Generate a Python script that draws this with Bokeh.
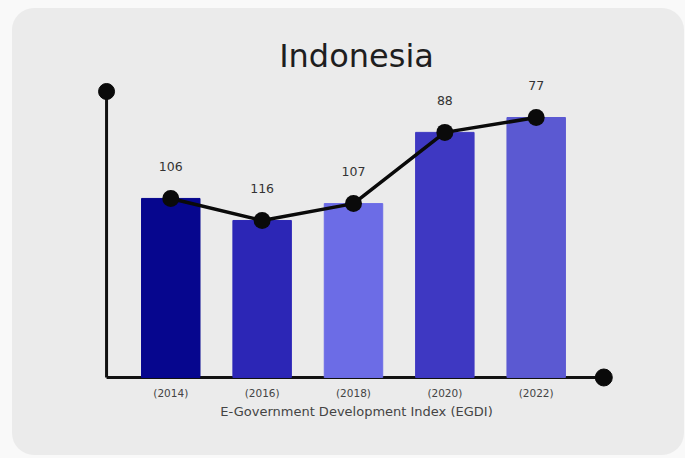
from bokeh.plotting import figure
from bokeh.models import ColumnDataSource, Range1d, Title
from bokeh.core.properties import value
from bokeh.embed import file_html
from bokeh.resources import INLINE

years = ["(2014)", "(2016)", "(2018)", "(2020)", "(2022)"]
heights = [62.6, 54.9, 60.8, 85.7, 90.9]
ranks = ["106", "116", "107", "88", "77"]
colors = ["#06068e", "#2c26b6", "#6c6ce6", "#3e38c2", "#5b59d2"]
x_title = "E-Government Development Index (EGDI)"
title_text = "Indonesia"

idx = list(range(len(years)))
src = ColumnDataSource(dict(x=idx, h=heights, r=ranks, c=colors))

# layout: axis extents (in data units)
AX_X0, AX_X1 = -0.703, 4.74
AX_Y0, AX_Y1 = 0, 100

PANEL = "#ebebeb"
p = figure(width=672, height=447, output_backend="svg", toolbar_location=None,
           x_range=Range1d(-0.824, 4.890), y_range=Range1d(-3.85, 105.24),
           min_border_left=83, min_border_right=67, min_border_top=68,
           min_border_bottom=67)
p.margin = (8, 3, 3, 12)
p.styles = {"border-radius": "22px", "overflow": "hidden",
            "background-color": PANEL}
p.background_fill_color = None
p.border_fill_color = None
p.outline_line_color = None
p.grid.visible = False

p.title = Title(text=title_text, align="center", text_font="DejaVu Sans",
                text_font_size="32px", text_font_style="normal",
                text_color="#1e1e1e", standoff=4)

# axis lines with end dots
p.line(x=[AX_X0, AX_X1], y=[AX_Y0, AX_Y0], line_color="#111111", line_width=3)
p.line(x=[AX_X0, AX_X0], y=[AX_Y0, AX_Y1], line_color="#111111", line_width=3)
p.scatter(x=[AX_X1], y=[AX_Y0], size=17, color="#0a0a0a")
p.scatter(x=[AX_X0], y=[AX_Y1], size=16, color="#0a0a0a")

p.vbar(x="x", top="h", width=0.64, bottom=AX_Y0, color="c", source=src)
p.line(x="x", y="h", line_color="#0a0a0a", line_width=3.5, source=src)
p.scatter(x="x", y="h", size=17, fill_color="#0a0a0a", line_color=None, source=src)
p.text(x="x", y="h", text="r", source=src, text_align="center",
       text_baseline="middle", y_offset=-32, text_font_size="12.5px",
       text_color="#333333", text_font=value("DejaVu Sans"))

p.yaxis.visible = False
ax = p.xaxis[0]
ax.axis_line_color = None
ax.major_tick_line_color = None
ax.minor_tick_line_color = None
ax.major_tick_out = 0
ax.ticker = idx
ax.major_label_overrides = {i: y for i, y in zip(idx, years)}
ax.major_label_text_font = "DejaVu Sans"
ax.major_label_text_font_size = "10.5px"
ax.major_label_text_color = "#444444"
ax.major_label_standoff = -2
ax.axis_label = x_title
ax.axis_label_text_font = "DejaVu Sans"
ax.axis_label_text_font_size = "13px"
ax.axis_label_text_font_style = "normal"
ax.axis_label_text_color = "#444444"
ax.axis_label_standoff = 2

html = file_html(p, INLINE)
html = html.replace("<body>", "<body style=\"margin:0;background:#f9f9f9\">")
open("out.html", "w").write(html)
